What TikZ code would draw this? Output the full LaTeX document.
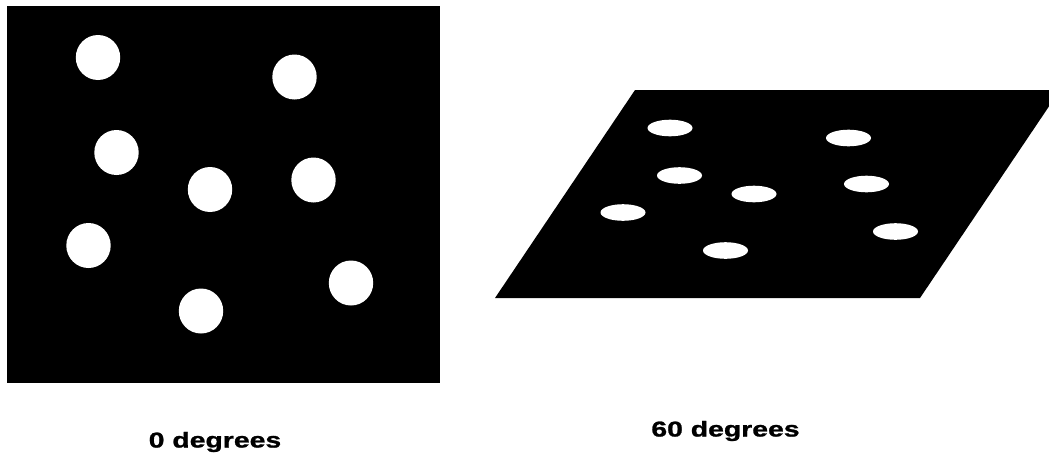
\documentclass[tikz,border=0pt]{standalone}
\usepackage{fontspec}
\newfontfamily\labfont{Liberation Sans}[FakeStretch=1.32, FakeBold=1.2]
\definecolor{c1}{HTML}{000000}
\definecolor{c2}{HTML}{FFFFFF}

\begin{document}
\begin{tikzpicture}[
    x=1pt, y=-1pt,
    every node/.style={inner sep=0pt},
    lab/.style={font=\labfont\bfseries\fontsize{21.5}{25}\selectfont, text=c1, anchor=base},
    plate/.style={fill=c1},
    dot/.style={fill=c2},
]
\clip (0,0) rectangle (1049,461);

% ================================================================ 0 degrees
\fill[plate] (7,6) rectangle (440,383);
\foreach \px/\py in {98/57.5, 294.5/77, 116.5/152.5, 210/189.5,
                     313.5/180, 88.5/245.5, 351/283, 201/311}{
  \fill[dot] (\px,\py) ellipse [x radius=22.2, y radius=22.5];
}
\node[lab] (lab0) at (215,447.5) {0 degrees};

% ================================================================ 60 degrees
\fill[plate] (495,298) -- (920,298) -- (1060,90) -- (635,90) -- cycle;
\foreach \px/\py in {670/128, 679.5/175.5, 754/194, 623/212.5, 725.5/250.5,
                     848.5/138, 866.5/184, 895.5/231.5}{
  \fill[dot] (\px,\py) ellipse [x radius=22.5, y radius=8.3];
}
\node[lab] (lab60) at (725.5,436.5) {60 degrees};
\end{tikzpicture}
\end{document}
